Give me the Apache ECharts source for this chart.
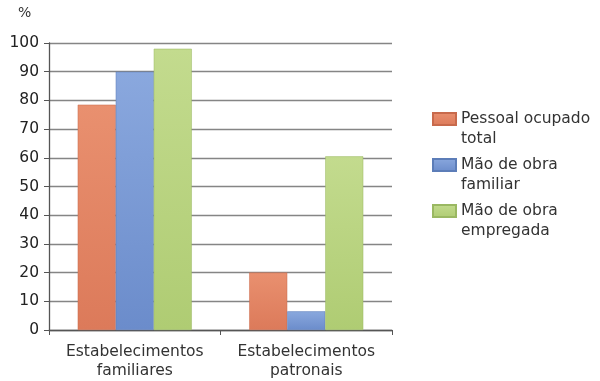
<!DOCTYPE html>
<html>
<head>
<meta charset="utf-8">
<script src="https://cdn.jsdelivr.net/npm/echarts@6/dist/echarts.min.js"></script>
<style>
    html, body { margin: 0; padding: 0; background: #fff; }
    #chart { width: 600px; height: 381px; }
</style>
</head>
<body>
<div id="chart"></div>
<script>
var categories = ['Estabelecimentos\nfamiliares', 'Estabelecimentos\npatronais'];
var seriesNames = ['Pessoal ocupado\ntotal', 'Mão de obra\nfamiliar', 'Mão de obra\nempregada'];
var pessoalOcupado = [78.5, 20];
var maoFamiliar = [90, 6.5];
var maoEmpregada = [98, 60.5];
var yTicks = [0, 100, 10];

function grad(top, bottom) {
    return new echarts.graphic.LinearGradient(0, 0, 0, 1, [
        { offset: 0, color: top },
        { offset: 1, color: bottom }
    ]);
}

var chart = echarts.init(document.getElementById('chart'));
var option = {
    animation: false,
    textStyle: { fontFamily: 'DejaVu Sans' },
    grid: { left: 49, right: 208, top: 43, bottom: 51 },
    graphic: [
        { type: 'text', left: 18, top: 6, style: { text: '%', fontSize: 14, fill: '#333', fontFamily: 'DejaVu Sans' } }
    ],
    legend: {
        orient: 'vertical',
        left: 432,
        top: 89,
        padding: 0,
        itemWidth: 23,
        itemHeight: 12,
        itemGap: -14,
        icon: 'rect',
        // blank first line so the swatch lines up with the first text line
        formatter: function (name) { return '\n' + name; },
        textStyle: {
            fontSize: 15.5,
            color: '#333',
            lineHeight: 20
        },
        data: seriesNames
    },
    xAxis: {
        type: 'category',
        data: categories,
        axisLine: { lineStyle: { color: '#555', width: 1.3 } },
        axisTick: { show: true, length: 5, lineStyle: { color: '#555' } },
        axisLabel: { interval: 0, fontSize: 15.5, color: '#333', lineHeight: 19, margin: 12 }
    },
    yAxis: {
        type: 'value',
        min: yTicks[0],
        max: yTicks[1],
        interval: yTicks[2],
        axisLine: { show: true, lineStyle: { color: '#555', width: 1.3 } },
        axisTick: { show: true, length: 5, lineStyle: { color: '#555' } },
        axisLabel: { fontSize: 15.5, color: '#222', margin: 10 },
        splitLine: { show: true, lineStyle: { color: '#858585', width: 1.3 } }
    },
    series: [
        {
            name: seriesNames[0],
            type: 'bar',
            data: pessoalOcupado,
            barGap: '0%',
            barCategoryGap: '33.5%',
            itemStyle: { color: grad('#e9906f', '#dc7a5a'), borderColor: '#c86a4c', borderWidth: 0.5 }
        },
        {
            name: seriesNames[1],
            type: 'bar',
            data: maoFamiliar,
            barGap: '0%',
            barCategoryGap: '33.5%',
            itemStyle: { color: grad('#8aa8de', '#6b8ccb'), borderColor: '#5c7db8', borderWidth: 0.5 }
        },
        {
            name: seriesNames[2],
            type: 'bar',
            data: maoEmpregada,
            barGap: '0%',
            barCategoryGap: '33.5%',
            itemStyle: { color: grad('#c3db8e', '#afcc73'), borderColor: '#9ab862', borderWidth: 0.5 }
        }
    ]
};
chart.setOption(option);
window.addEventListener('resize', function () {
    chart.resize();
});
</script>
</body>
</html>
